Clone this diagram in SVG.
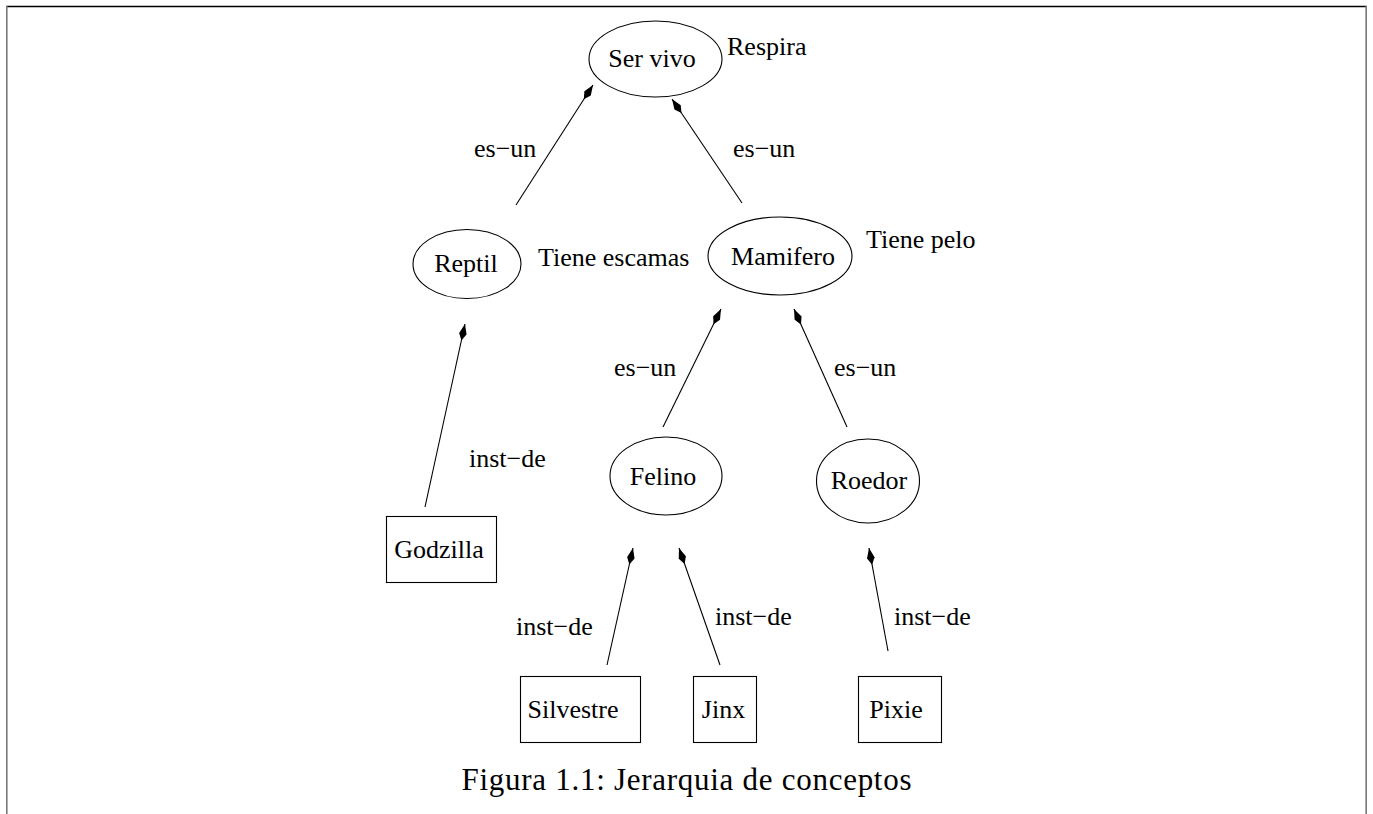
<svg xmlns="http://www.w3.org/2000/svg" width="1373" height="814" viewBox="0 0 1373 814" font-family="'Liberation Serif', 'Times New Roman', serif">
  <style>
    text { font-family: "Liberation Serif", "Times New Roman", serif; fill: #000; }
    .shape { fill: none; stroke: #000; stroke-width: 1.1; }
    .lbl { font-size: 26px; }
    .mid { text-anchor: middle; }
    .edge { stroke: #000; stroke-width: 1.1; fill: none; marker-end: url(#kite); }
    .cap { font-size: 31px; text-anchor: middle; }
  </style>
  <defs>
    <marker id="kite" markerUnits="userSpaceOnUse" markerWidth="20" markerHeight="12" viewBox="-18 -6 19 12" refX="0" refY="0" orient="auto">
      <path d="M0,0 L-10,-3.8 L-17,0 L-10,3.8 Z" fill="#000"/>
    </marker>
  </defs>

  <rect width="1373" height="814" fill="#fff"/>

  <!-- page frame -->
  <g id="frame">
    <line x1="6" y1="6.5" x2="1367" y2="6.5" stroke="#000" stroke-width="1.3"/>
    <line x1="6.8" y1="6" x2="6.8" y2="814" stroke="#777" stroke-width="1.6"/>
    <line x1="1366.2" y1="6" x2="1366.2" y2="814" stroke="#777" stroke-width="1.6"/>
  </g>

  <!-- connectors -->
  <g id="connectors">
    <line class="edge" x1="516" y1="205" x2="593" y2="85"/>
    <line class="edge" x1="742" y1="203" x2="672" y2="99"/>
    <line class="edge" x1="425" y1="507" x2="465" y2="324"/>
    <line class="edge" x1="663" y1="427" x2="721" y2="309"/>
    <line class="edge" x1="847" y1="427" x2="794" y2="309"/>
    <line class="edge" x1="607" y1="665" x2="633" y2="548"/>
    <line class="edge" x1="720" y1="665" x2="679" y2="548"/>
    <line class="edge" x1="888" y1="651" x2="869" y2="548"/>
    <text class="lbl" x="474" y="157">es−un</text>
    <text class="lbl" x="733" y="157">es−un</text>
    <text class="lbl" x="469" y="467">inst−de</text>
    <text class="lbl" x="614" y="376">es−un</text>
    <text class="lbl" x="834" y="376">es−un</text>
    <text class="lbl" x="516" y="635">inst−de</text>
    <text class="lbl" x="715" y="625">inst−de</text>
    <text class="lbl" x="894" y="625">inst−de</text>
  </g>

  <g id="ser-vivo">
    <ellipse class="shape" cx="655.5" cy="59" rx="66.5" ry="38"/>
    <text class="lbl mid" x="652" y="67">Ser vivo</text>
    <text class="lbl" x="727" y="55">Respira</text>
  </g>

  <g id="reptil">
    <ellipse class="shape" cx="467" cy="264" rx="54" ry="34.5"/>
    <text class="lbl mid" x="466" y="272">Reptil</text>
    <text class="lbl" x="538" y="266">Tiene escamas</text>
  </g>

  <g id="mamifero">
    <ellipse class="shape" cx="780" cy="256" rx="72" ry="39"/>
    <text class="lbl mid" x="783" y="265">Mamifero</text>
    <text class="lbl" x="866" y="248">Tiene pelo</text>
  </g>

  <g id="felino">
    <ellipse class="shape" cx="666" cy="476" rx="56" ry="39"/>
    <text class="lbl mid" x="663" y="485">Felino</text>
  </g>

  <g id="roedor">
    <ellipse class="shape" cx="868" cy="481" rx="51.5" ry="42"/>
    <text class="lbl mid" x="869" y="489">Roedor</text>
  </g>

  <g id="godzilla">
    <rect class="shape" x="386.5" y="516.5" width="110" height="66"/>
    <text class="lbl mid" x="439" y="558">Godzilla</text>
  </g>

  <g id="silvestre">
    <rect class="shape" x="520.5" y="676.5" width="120" height="66"/>
    <text class="lbl mid" x="573" y="718">Silvestre</text>
  </g>

  <g id="jinx">
    <rect class="shape" x="693.5" y="676.5" width="63" height="66"/>
    <text class="lbl mid" x="723.5" y="718">Jinx</text>
  </g>

  <g id="pixie">
    <rect class="shape" x="858.5" y="676.5" width="83" height="66"/>
    <text class="lbl mid" x="896" y="718">Pixie</text>
  </g>

  <text class="cap" x="686.5" y="790" textLength="450" lengthAdjust="spacing">Figura 1.1: Jerarquia de conceptos</text>
</svg>
